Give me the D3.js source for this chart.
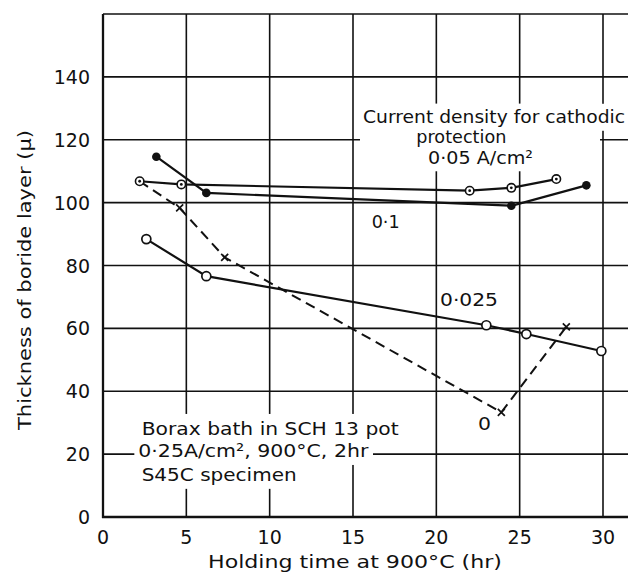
<!DOCTYPE html>
<html>
<head>
<meta charset="utf-8">
<script src="https://cdn.jsdelivr.net/npm/d3@7/dist/d3.min.js"></script>
<style>
  html, body { margin: 0; padding: 0; background: #fff; }
  svg { display: block; }
  text { font-family: "DejaVu Sans", sans-serif; fill: #111; }
</style>
</head>
<body>
<svg id="chart" width="629" height="572"></svg>
<script>
// ---- data ----
const xTicks = [0, 5, 10, 15, 20, 25, 30];
const xTickLabels = ["0", "5", "10", "15", "20", "25", "30"];
const yTicks = [0, 20, 40, 60, 80, 100, 120, 140];
const yTickLabels = ["0", "20", "40", "60", "80", "100", "120", "140"];

// current density 0.05 A/cm² (dotted circles)
const time005 = [2.2, 4.7, 22.0, 24.5, 27.2];
const thick005 = [106.8, 105.8, 103.8, 104.7, 107.5];
// current density 0.1 A/cm² (filled circles)
const time01 = [3.2, 6.2, 24.5, 29.0];
const thick01 = [114.6, 103.1, 99.0, 105.5];
// current density 0.025 A/cm² (open circles)
const time0025 = [2.6, 6.2, 23.0, 25.4, 29.9];
const thick0025 = [88.4, 76.6, 61.0, 58.2, 52.8];
// current density 0 (crosses, dashed); first point shared with the 0.05 curve
const time0 = [2.2, 4.6, 7.3, 23.9, 27.8];
const thick0 = [106.8, 98.3, 82.6, 33.3, 60.5];
const showMarker0 = [false, true, true, true, true];

const xTitle = "Holding time at 900°C (hr)";
const yTitle = "Thickness of boride layer (μ)";

// ---- drawing ----
const svg = d3.select("#chart");
const x = d3.scaleLinear().domain([0, 31.5]).range([103, 628]);
const y = d3.scaleLinear().domain([0, 160]).range([517, 14]);
const ink = "#111";

const grid = svg.append("g");
grid.selectAll("line.h").data(yTicks.filter(d => d > 0).concat([160])).join("line")
  .attr("x1", x(0)).attr("x2", x(31.5))
  .attr("y1", d => y(d)).attr("y2", d => y(d))
  .attr("stroke", ink).attr("stroke-width", 1.6);
grid.selectAll("line.v").data(xTicks.filter(d => d > 0)).join("line")
  .attr("x1", d => x(d)).attr("x2", d => x(d))
  .attr("y1", y(0)).attr("y2", y(160))
  .attr("stroke", ink).attr("stroke-width", 1.6);
grid.append("line").attr("x1", x(0)).attr("x2", x(0)).attr("y1", y(0) + 1).attr("y2", y(160))
  .attr("stroke", ink).attr("stroke-width", 2.3);
grid.append("line").attr("x1", x(0) - 1).attr("x2", x(31.5)).attr("y1", y(0)).attr("y2", y(0))
  .attr("stroke", ink).attr("stroke-width", 2.3);

// tick labels
svg.append("g").selectAll("text").data(xTicks).join("text")
  .attr("x", d => x(d)).attr("y", 543.5)
  .attr("text-anchor", "middle").attr("font-size", 19)
  .text((d, i) => xTickLabels[i]);
svg.append("g").selectAll("text").data(yTicks).join("text")
  .attr("x", 90).attr("y", d => y(d) + 7)
  .attr("text-anchor", "end").attr("font-size", 19)
  .text((d, i) => yTickLabels[i]);

// axis titles
svg.append("text").attr("x", 355).attr("y", 568).attr("text-anchor", "middle")
  .attr("font-size", 18).attr("textLength", 294).attr("lengthAdjust", "spacingAndGlyphs")
  .text(xTitle);
svg.append("text").attr("transform", "translate(31,280) rotate(-90)").attr("text-anchor", "middle")
  .attr("font-size", 18).attr("textLength", 300).attr("lengthAdjust", "spacingAndGlyphs")
  .text(yTitle);

// annotation blocks (white backing that interrupts the grid, as in the reference)
const notes = svg.append("g");
function addText(g, t, v, str, len, size) {
  return g.append("text").attr("x", x(t)).attr("y", y(v)).attr("font-size", size || 18)
    .attr("textLength", len).attr("lengthAdjust", "spacingAndGlyphs").text(str);
}
const topBlock = notes.append("g");
const tb1 = addText(topBlock, 15.6, 125.4, "Current density for cathodic", 262);
const tb2 = addText(topBlock, 18.8, 118.9, "protection", 90);
const tb3 = addText(topBlock, 19.5, 112.2, "0·05 A/cm²", 105);
const bb1 = tb1.node().getBBox(), bb3 = tb3.node().getBBox();
topBlock.insert("rect", "text").attr("x", bb1.x - 3).attr("y", bb1.y - 2)
  .attr("width", x(30) - 3 - (bb1.x - 3)).attr("height", bb3.y + bb3.height + 3 - (bb1.y - 2))
  .attr("fill", "#fff");
topBlock.insert("rect", "text").attr("x", bb1.x - 3).attr("y", bb1.y - 2)
  .attr("width", bb1.width + 6).attr("height", bb1.height + 6).attr("fill", "#fff");

const botBlock = notes.append("g");
const lines = [
  [2.32, 26.1, "Borax bath in SCH 13 pot", 257],
  [2.12, 19.1, "0·25A/cm², 900°C, 2hr", 230],
  [2.32, 11.5, "S45C specimen", 155]
];
lines.forEach(l => {
  const t = addText(botBlock, l[0], l[1], l[2], l[3]);
  const b = t.node().getBBox();
  botBlock.insert("rect", "text").attr("x", b.x - 4).attr("y", b.y - 4)
    .attr("width", b.width + 8).attr("height", b.height + 8).attr("fill", "#fff");
});

// series lines
const line = d3.line().x(d => x(d[0])).y(d => y(d[1]));
function pts(ts, vs) { return ts.map((t, i) => [t, vs[i]]); }
const plot = svg.append("g");
plot.append("path").attr("d", line(pts(time0, thick0))).attr("fill", "none")
  .attr("stroke", ink).attr("stroke-width", 2).attr("stroke-dasharray", "10,6");
[[time005, thick005], [time01, thick01], [time0025, thick0025]].forEach(s => {
  plot.append("path").attr("d", line(pts(s[0], s[1]))).attr("fill", "none")
    .attr("stroke", ink).attr("stroke-width", 2.2);
});

// markers
plot.selectAll("circle.o005").data(pts(time005, thick005)).join("circle")
  .attr("cx", d => x(d[0])).attr("cy", d => y(d[1])).attr("r", 4.2)
  .attr("fill", "#fff").attr("stroke", ink).attr("stroke-width", 1.6);
plot.selectAll("circle.d005").data(pts(time005, thick005)).join("circle")
  .attr("cx", d => x(d[0])).attr("cy", d => y(d[1])).attr("r", 1.4).attr("fill", ink);
plot.selectAll("circle.f01").data(pts(time01, thick01)).join("circle")
  .attr("cx", d => x(d[0])).attr("cy", d => y(d[1])).attr("r", 4.3).attr("fill", ink);
plot.selectAll("circle.o0025").data(pts(time0025, thick0025)).join("circle")
  .attr("cx", d => x(d[0])).attr("cy", d => y(d[1])).attr("r", 4.5)
  .attr("fill", "#fff").attr("stroke", ink).attr("stroke-width", 1.7);
plot.selectAll("path.x0").data(pts(time0, thick0).filter((d, i) => showMarker0[i])).join("path")
  .attr("transform", d => `translate(${x(d[0])},${y(d[1])})`)
  .attr("d", "M-3.5,-3.5L3.5,3.5M-3.5,3.5L3.5,-3.5")
  .attr("stroke", ink).attr("stroke-width", 1.7).attr("fill", "none");

// curve labels
addText(notes, 16.12, 91.9, "0·1", 28);
addText(notes, 20.22, 67.1, "0·025", 58);
addText(notes, 22.5, 27.7, "0", 13);
</script>
</body>
</html>
